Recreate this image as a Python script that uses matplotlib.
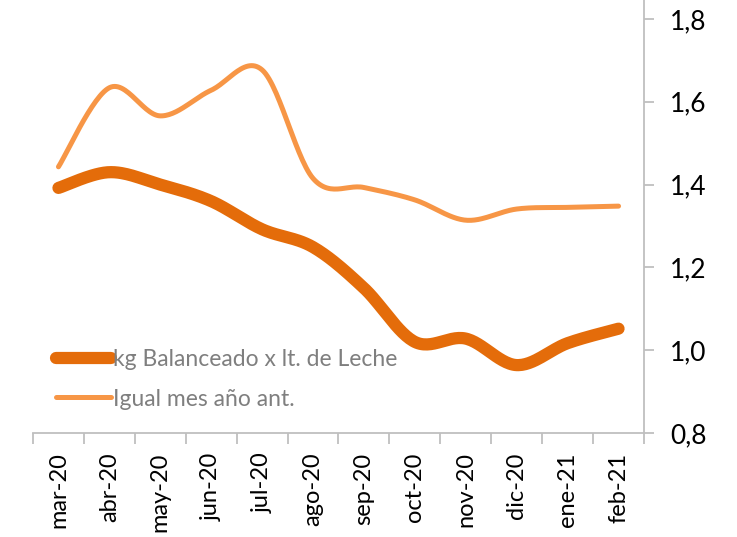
import matplotlib.pyplot as plt
import numpy as np

plt.rcParams['font.family'] = ['Lato', 'DejaVu Sans']

meses = ['mar-20', 'abr-20', 'may-20', 'jun-20', 'jul-20', 'ago-20',
         'sep-20', 'oct-20', 'nov-20', 'dic-20', 'ene-21', 'feb-21']
kg_balanceado = [1.392, 1.430, 1.400, 1.360, 1.292, 1.249,
                 1.150, 1.020, 1.028, 0.964, 1.017, 1.052]
igual_mes_ant = [1.443, 1.634, 1.566, 1.628, 1.677, 1.415,
                 1.393, 1.363, 1.314, 1.341, 1.345, 1.348]


# smoothed line like the spreadsheet (bezier through the points)
def suavizar(y, n=30):
    y = np.asarray(y, dtype=float)
    x = np.arange(len(y), dtype=float)
    xs, ys = [], []
    t = np.linspace(0, 1, n)
    for i in range(len(y) - 1):
        p0 = (x[i - 1], y[i - 1]) if i > 0 else (x[i], y[i])
        p1 = (x[i], y[i])
        p2 = (x[i + 1], y[i + 1])
        p3 = (x[i + 2], y[i + 2]) if i + 2 < len(y) else (x[i + 1], y[i + 1])
        c1 = (p1[0] + (p2[0] - p0[0]) / 6, p1[1] + (p2[1] - p0[1]) / 6)
        c2 = (p2[0] - (p3[0] - p1[0]) / 6, p2[1] - (p3[1] - p1[1]) / 6)
        bx = ((1 - t) ** 3 * p1[0] + 3 * (1 - t) ** 2 * t * c1[0]
              + 3 * (1 - t) * t ** 2 * c2[0] + t ** 3 * p2[0])
        by = ((1 - t) ** 3 * p1[1] + 3 * (1 - t) ** 2 * t * c1[1]
              + 3 * (1 - t) * t ** 2 * c2[1] + t ** 3 * p2[1])
        xs.extend(bx)
        ys.extend(by)
    return np.array(xs), np.array(ys)


fig = plt.figure(figsize=(7.37, 5.37), dpi=100)
ax = fig.add_axes([33 / 737, 1 - 433 / 537, (644 - 33) / 737, 433 / 537])

x1, y1 = suavizar(kg_balanceado)
x2, y2 = suavizar(igual_mes_ant)
ax.plot(x1, y1, color='#E46C0A', lw=8.8, solid_capstyle='round',
        label='kg Balanceado x lt. de Leche', zorder=3)
ax.plot(x2, y2, color='#F79646', lw=3.6, solid_capstyle='round',
        label='Igual mes año ant.', zorder=2)

ax.set_xlim(-0.5, 11.5)
ax.set_ylim(0.8, 0.8 + 433 / 414)

gris = '#BFBFBF'
for s in ['top', 'left']:
    ax.spines[s].set_visible(False)
for s in ['bottom', 'right']:
    ax.spines[s].set_color(gris)
    ax.spines[s].set_linewidth(1.3)

ax.yaxis.tick_right()
ax.set_yticks([0.8, 1.0, 1.2, 1.4, 1.6, 1.8])
ax.set_yticklabels(['0,8', '1,0', '1,2', '1,4', '1,6', '1,8'])
ax.tick_params(axis='y', direction='out', length=7, width=1.3, color=gris,
               pad=12, labelsize=19, labelcolor='black')

ax.set_xticks(np.arange(-0.5, 12, 1))
ax.set_xticklabels([])
ax.set_xticks(np.arange(12), minor=True)
ax.set_xticklabels(meses, minor=True, rotation=90)
ax.tick_params(axis='x', which='major', direction='out', length=8,
               width=1.3, color=gris)
ax.tick_params(axis='x', which='minor', length=0, pad=14, labelsize=17,
               labelcolor='black')

leg = ax.legend(loc='upper left', bbox_to_anchor=(14 / 611, (433 - 340) / 433),
                frameon=False, fontsize=16.5, handlelength=2.4,
                handletextpad=0.1, labelspacing=0.8, borderaxespad=0)
for t in leg.get_texts():
    t.set_color('#7F7F7F')

fig.savefig('out.png', dpi=100)
